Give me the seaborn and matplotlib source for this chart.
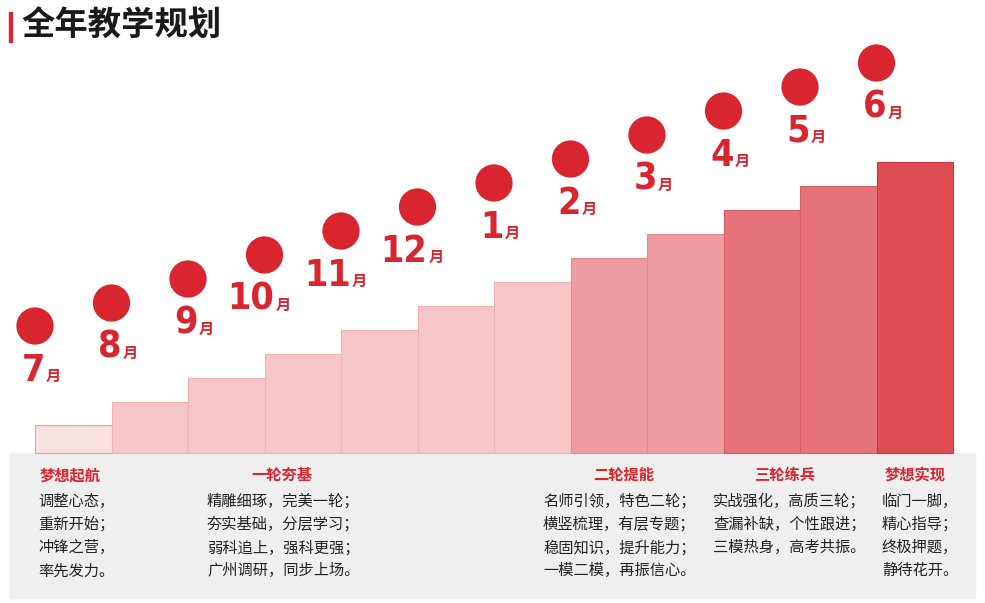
import matplotlib
matplotlib.use("Agg")
import matplotlib.pyplot as plt
import seaborn as sns
import pandas as pd
from matplotlib.patches import Rectangle

sns.set_style("white")
plt.rcParams['font.family'] = ['Noto Sans CJK SC', 'DejaVu Sans']

months = ["7", "8", "9", "10", "11", "12", "1", "2", "3", "4", "5", "6"]
heights = [28, 51, 75, 99, 123, 147, 171, 195, 219, 243, 267, 291]
groups = ["g0", "g1", "g1", "g1", "g1", "g1", "g1", "g2", "g2", "g3", "g3", "g4"]
palette = {"g0": "#f9e1e2", "g1": "#f5c5c8", "g2": "#ee9ea2", "g3": "#e6737a", "g4": "#dd4d54"}
edges = {"g0": "#e8a3a7", "g1": "#efb3b7", "g2": "#e58a90", "g3": "#da5d64", "g4": "#cf3a42"}
headings = ["梦想起航", "一轮夯基", "二轮提能", "三轮练兵", "梦想实现"]
heading_x = [70, 282, 624, 785, 915]
col_x = [38, 207, 543, 713, 882]
col_lines = [
    ["调整心态，", "重新开始；", "冲锋之营，", "率先发力。"],
    ["精雕细琢，完美一轮；", "夯实基础，分层学习；", "弱科追上，强科更强；", "广州调研，同步上场。"],
    ["名师引领，特色二轮；", "横竖梳理，有层专题；", "稳固知识，提升能力；", "一模二模，再振信心。"],
    ["实战强化，高质三轮；", "查漏补缺，个性跟进；", "三模热身，高考共振。"],
    ["临门一脚，", "精心指导；", "终极押题，", "静待花开。"],
]

RED = "#d9252f"
step = 76.5
x0 = 35
xs = [x0 + step * i + step / 2 for i in range(12)]
df = pd.DataFrame({"x": xs, "h": heights, "g": groups})

fig = plt.figure(figsize=(9.85, 6.03), dpi=100)
ax = fig.add_axes([0, 0, 1, 1])
ax.add_patch(Rectangle((10, -145), 965, 145, color="#efefef", zorder=0))
sns.barplot(data=df, x="x", y="h", hue="g", palette=palette, native_scale=True, saturation=1,
            width=1, dodge=False, legend=False, ax=ax, linewidth=0, zorder=2)
bars = sorted([pp for pp in ax.patches if isinstance(pp, Rectangle) and pp.get_width() < 200 and pp.get_height() > 0],
              key=lambda r: r.get_x())
for b, g in zip(bars, groups):
    b.set_edgecolor(edges[g]); b.set_linewidth(0.8)

cx = [x0 + step * i for i in range(12)]
cy = [h + 99 for h in heights]
sns.scatterplot(x=cx, y=cy, s=720, color=RED, edgecolor="none", ax=ax, zorder=3)
for x, y, m in zip(cx, cy, months):
    ax.text(x + 10, y - 45, m, color=RED, fontsize=27, fontweight="bold", ha="right", va="center",
            family="DejaVu Sans", fontstretch="condensed")
    ax.text(x + 11, y - 50, "月", color=RED, fontsize=11, fontweight="bold", ha="left", va="center")

for hx, h in zip(heading_x, headings):
    ax.text(hx, 453 - 475, h, color=RED, fontsize=11, fontweight="bold", ha="center", va="center")
for x, lines in zip(col_x, col_lines):
    for j, t in enumerate(lines):
        ax.text(x, 453 - (501 + 23.3 * j), t, color="#222222", fontsize=11, ha="left", va="center")

ax.add_patch(Rectangle((9, 453 - 42), 3, 30, color=RED, zorder=3))
ax.text(22, 453 - 26, "全年教学规划", fontsize=24, fontweight="bold", color="#1a1a1a", ha="left", va="center")

ax.set_xlim(0, 985)
ax.set_ylim(-150, 453)
ax.axis("off")
fig.savefig("out.png", dpi=100)
